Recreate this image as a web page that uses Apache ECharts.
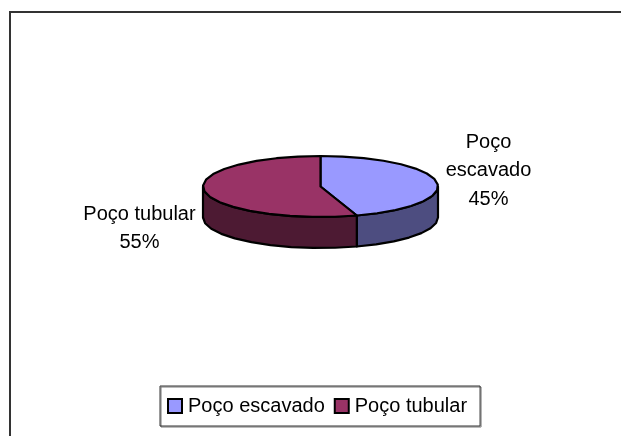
<!DOCTYPE html>
<html>
<head>
<meta charset="utf-8">
<script src="https://cdn.jsdelivr.net/npm/echarts@6/dist/echarts.min.js"></script>
<style>
html, body { margin: 0; padding: 0; background: #fff; }
#chart { width: 621px; height: 436px; }
</style>
</head>
<body>
<div id="chart"></div>
<script>
const categories = ['Poço escavado', 'Poço tubular']
const values = [45, 55]
const topColors = ['#9999ff', '#993366']
const sideColors = ['#4d4d80', '#4d1a33']

// elipse do topo da pizza
const cx = 320.5, cy = 186.5, rx = 117.5, ry = 30.5, depth = 31

const total = values.reduce((a, b) => a + b, 0)
const rad = v => v / total * Math.PI * 2

// angulo medido a partir das 12h, sentido horario
const pt = (a, dy = 0) => [cx + Math.sin(a) * rx, cy - Math.cos(a) * ry + dy]

const arc = (a0, a1, dy = 0) => {
  const n = Math.max(2, Math.ceil((a1 - a0) / 0.2))
  return Array.from({ length: n + 1 }, (_, i) => pt(a0 + (a1 - a0) * i / n, dy))
}

const sliceRender = idx => () => {
  const before = values.slice(0, idx).reduce((a, b) => a + b, 0)
  const a0 = rad(before)
  const a1 = rad(before + values[idx])
  const style = { lineWidth: 2.2, stroke: '#000', lineJoin: 'round' }
  const children = []
  // lateral: so a parte da frente (90 a 270 graus)
  const s0 = Math.max(a0, Math.PI / 2)
  const s1 = Math.min(a1, Math.PI * 1.5)
  if (s1 > s0) {
    const upper = arc(s0, s1)
    const lower = arc(s0, s1, depth).reverse()
    children.push({
      type: 'polygon',
      shape: { points: upper.concat(lower) },
      style: { ...style, fill: sideColors[idx] }
    })
  }
  children.push({
    type: 'polygon',
    shape: { points: [[cx, cy]].concat(arc(a0, a1)) },
    style: { ...style, fill: topColors[idx] }
  })
  return { type: 'group', children }
}

const chart = echarts.init(document.getElementById('chart'), null, { renderer: 'canvas' })
chart.setOption({
  animation: false,
  backgroundColor: '#fff',
  textStyle: { fontFamily: 'Liberation Sans, Arial, sans-serif' },
  legend: {
    data: categories,
    left: 160,
    top: 386,
    orient: 'horizontal',
    icon: 'rect',
    itemWidth: 14,
    itemHeight: 14,
    itemGap: 9,
    padding: [10, 13, 10, 7],
    borderColor: '#333',
    borderWidth: 1,
    shadowColor: '#777',
    shadowBlur: 0,
    shadowOffsetX: 1,
    shadowOffsetY: 1,
    itemStyle: { borderColor: '#000', borderWidth: 2 },
    textStyle: { fontSize: 20, color: '#000', padding: [0, 0, 9, 1] }
  },
  graphic: [
    // a moldura so aparece em cima e a esquerda
    {
      type: 'polyline',
      z: -1,
      shape: { points: [[10, 436], [10, 12], [621, 12]] },
      style: { fill: 'none', stroke: '#333', lineWidth: 2 }
    },
    {
      type: 'text', x: 488.5, y: 170.5,
      style: { text: 'Poço\nescavado\n45%', align: 'center', verticalAlign: 'middle', font: '20px Liberation Sans', lineHeight: 28.5, fill: '#000' }
    },
    {
      type: 'text', x: 139.5, y: 228.5,
      style: { text: 'Poço tubular\n55%', align: 'center', verticalAlign: 'middle', font: '20px Liberation Sans', lineHeight: 28.5, fill: '#000' }
    }
  ],
  series: categories.map((name, i) => ({
    type: 'custom',
    name,
    coordinateSystem: 'none',
    silent: true,
    itemStyle: { color: topColors[i] },
    data: [values[i]],
    renderItem: sliceRender(i)
  }))
})
</script>
</body>
</html>
